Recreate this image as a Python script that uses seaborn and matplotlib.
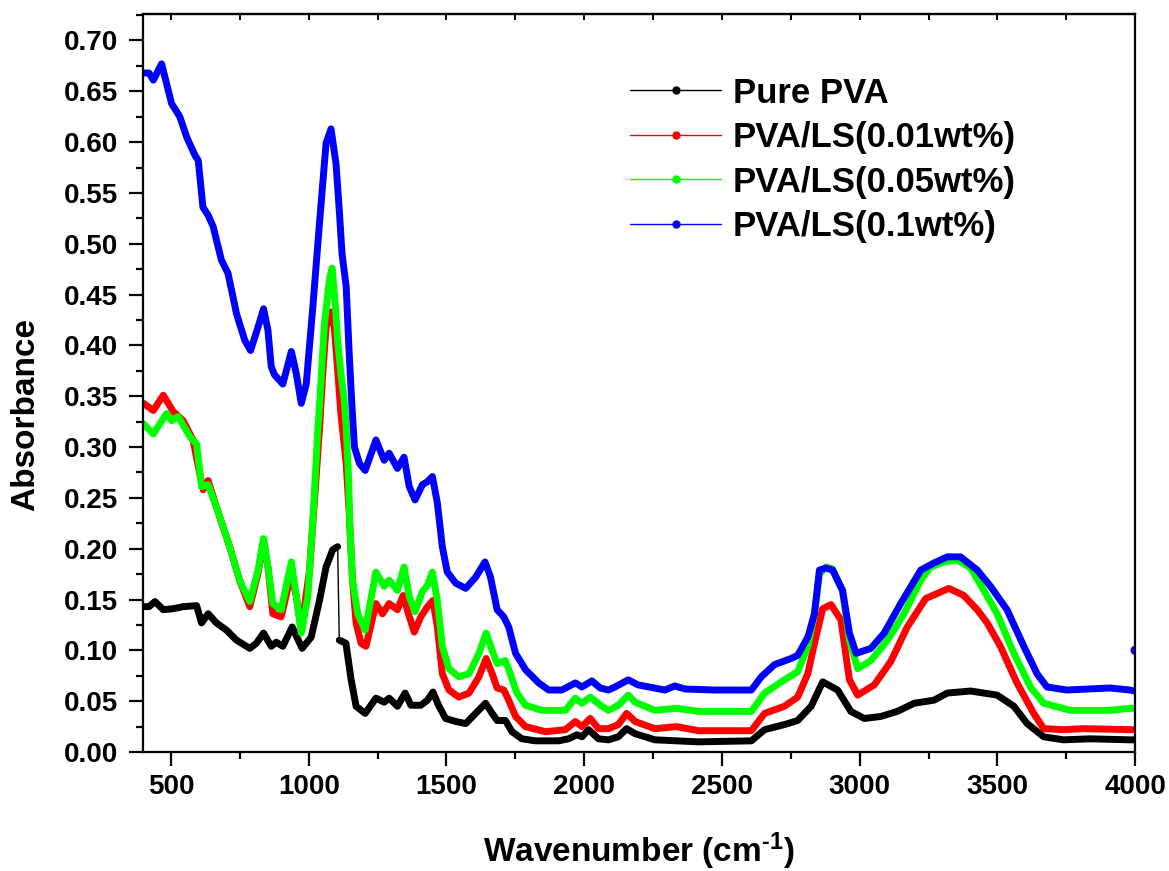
import numpy as np
import pandas as pd
import matplotlib
matplotlib.use("Agg")
import matplotlib.pyplot as plt
from matplotlib.lines import Line2D
from matplotlib.ticker import MultipleLocator, FormatStrFormatter
import seaborn as sns

# ---------------- data ----------------
sample_names = ["Pure PVA", "PVA/LS(0.01wt%)", "PVA/LS(0.05wt%)", "PVA/LS(0.1wt%)"]
sample_colors = ["#000000", "#ff0000", "#00ff00", "#0000ff"]

pure_x = [400, 420, 442, 472, 508, 544, 593, 611, 635, 665, 701, 738, 786, 810, 836, 864, 882, 906, 940, 976,
          1009, 1039, 1063, 1087, 1105,
          1111, 1135, 1154, 1172, 1205, 1244, 1274, 1292, 1322, 1350, 1371, 1407, 1431, 1451, 1473, 1497, 1534,
          1570, 1606, 1642, 1666, 1684, 1714, 1738, 1774, 1823, 1907, 1943, 1974, 1992, 2016, 2052, 2088, 2124,
          2154, 2185, 2257, 2414, 2607, 2655, 2727, 2775, 2824, 2866, 2920, 2968, 3017, 3077, 3137, 3198, 3270,
          3318, 3403, 3499, 3560, 3608, 3668, 3740, 3837, 3981, 4000]
pure_y = [0.143, 0.143, 0.148, 0.140, 0.141, 0.143, 0.144, 0.127, 0.136, 0.127, 0.120, 0.110, 0.102, 0.107,
          0.117, 0.104, 0.108, 0.104, 0.123, 0.102, 0.113, 0.149, 0.182, 0.199, 0.202,
          0.110, 0.107, 0.071, 0.045, 0.038, 0.053, 0.049, 0.053, 0.045, 0.058, 0.046, 0.046, 0.051, 0.059,
          0.045, 0.033, 0.030, 0.028, 0.038, 0.048, 0.038, 0.031, 0.031, 0.020, 0.013, 0.011, 0.011, 0.013,
          0.017, 0.015, 0.022, 0.013, 0.012, 0.015, 0.023, 0.018, 0.012, 0.010, 0.011, 0.022, 0.027, 0.031,
          0.045, 0.069, 0.061, 0.040, 0.033, 0.035, 0.040, 0.048, 0.051, 0.058, 0.060, 0.056, 0.045, 0.028,
          0.015, 0.012, 0.013, 0.012, 0.012]
pure_break_after = 1105   # the pure PVA record jumps between 1105 and 1111 cm-1

ls001_x = [400, 436, 472, 508, 544, 580, 599, 617, 635, 665, 713, 749, 786, 816, 836, 852, 870, 900, 937, 955,
           973, 1003, 1021, 1039, 1051, 1063, 1081, 1093, 1105, 1117, 1136, 1147, 1159, 1172, 1190, 1208, 1244,
           1268, 1292, 1322, 1343, 1362, 1383, 1407, 1431, 1451, 1467, 1485, 1509, 1545, 1582, 1618, 1644, 1666,
           1684, 1708, 1726, 1751, 1787, 1860, 1932, 1968, 1992, 2022, 2052, 2088, 2124, 2154, 2185, 2257, 2335,
           2414, 2607, 2655, 2727, 2775, 2812, 2836, 2866, 2896, 2932, 2963, 2993, 3053, 3113, 3173, 3240, 3282,
           3324, 3378, 3427, 3463, 3511, 3571, 3632, 3668, 3740, 3813, 3981, 4000]
ls001_y = [0.343, 0.336, 0.351, 0.335, 0.326, 0.307, 0.281, 0.258, 0.267, 0.241, 0.202, 0.169, 0.143, 0.176,
           0.208, 0.182, 0.136, 0.133, 0.176, 0.153, 0.120, 0.179, 0.248, 0.317, 0.372, 0.418, 0.433, 0.418,
           0.376, 0.332, 0.284, 0.235, 0.169, 0.127, 0.107, 0.104, 0.146, 0.136, 0.146, 0.140, 0.154, 0.136,
           0.118, 0.133, 0.143, 0.149, 0.123, 0.077, 0.061, 0.054, 0.058, 0.074, 0.092, 0.077, 0.063, 0.061,
           0.051, 0.035, 0.025, 0.020, 0.022, 0.030, 0.025, 0.033, 0.023, 0.023, 0.027, 0.038, 0.030, 0.023,
           0.025, 0.021, 0.021, 0.038, 0.045, 0.054, 0.077, 0.107, 0.141, 0.145, 0.130, 0.071, 0.056, 0.066,
           0.089, 0.123, 0.151, 0.156, 0.161, 0.154, 0.140, 0.127, 0.104, 0.068, 0.038, 0.023, 0.022, 0.023,
           0.022, 0.022]

ls005_x = [400, 436, 484, 502, 526, 569, 593, 611, 635, 665, 713, 749, 786, 816, 836, 852, 870, 900, 937, 955,
           973, 997, 1015, 1033, 1039, 1057, 1075, 1085, 1097, 1105, 1117, 1129, 1136, 1145, 1150, 1159, 1178,
           1205, 1244, 1274, 1292, 1322, 1346, 1365, 1386, 1413, 1431, 1449, 1467, 1485, 1509, 1545, 1582, 1618,
           1644, 1666, 1684, 1714, 1732, 1756, 1787, 1847, 1932, 1968, 1992, 2022, 2064, 2088, 2124, 2160, 2185,
           2257, 2335, 2414, 2607, 2655, 2727, 2775, 2812, 2836, 2854, 2878, 2902, 2938, 2963, 2993, 3041, 3101,
           3161, 3222, 3258, 3306, 3354, 3403, 3451, 3499, 3560, 3620, 3668, 3765, 3909, 3981, 4000]
ls005_y = [0.323, 0.313, 0.333, 0.326, 0.330, 0.310, 0.303, 0.261, 0.263, 0.241, 0.202, 0.169, 0.148, 0.179,
           0.210, 0.182, 0.146, 0.140, 0.187, 0.153, 0.117, 0.153, 0.228, 0.317, 0.340, 0.421, 0.464, 0.476,
           0.438, 0.405, 0.372, 0.346, 0.320, 0.267, 0.218, 0.169, 0.136, 0.120, 0.177, 0.163, 0.169, 0.159,
           0.182, 0.153, 0.138, 0.158, 0.164, 0.177, 0.149, 0.104, 0.082, 0.074, 0.077, 0.097, 0.117, 0.100,
           0.087, 0.090, 0.077, 0.058, 0.046, 0.041, 0.041, 0.053, 0.048, 0.054, 0.045, 0.041, 0.046, 0.056,
           0.049, 0.041, 0.043, 0.040, 0.040, 0.058, 0.071, 0.079, 0.104, 0.136, 0.175, 0.182, 0.180, 0.158,
           0.110, 0.082, 0.090, 0.110, 0.136, 0.169, 0.182, 0.187, 0.189, 0.181, 0.159, 0.136, 0.097, 0.064,
           0.048, 0.041, 0.041, 0.043, 0.043]

ls01_x = [400, 420, 436, 466, 502, 532, 557, 587, 599, 616, 635, 653, 683, 707, 738, 768, 789, 816, 836, 852,
          864, 876, 906, 937, 955, 973, 991, 1015, 1039, 1063, 1081, 1099, 1111, 1121, 1136, 1147, 1157, 1166,
          1184, 1205, 1244, 1274, 1292, 1322, 1346, 1365, 1386, 1413, 1431, 1449, 1467, 1485, 1503, 1534, 1570,
          1606, 1640, 1660, 1684, 1708, 1726, 1751, 1787, 1835, 1871, 1919, 1968, 1992, 2028, 2058, 2088, 2112,
          2160, 2196, 2293, 2329, 2366, 2474, 2607, 2643, 2691, 2751, 2775, 2812, 2836, 2854, 2878, 2902, 2938,
          2963, 2987, 3041, 3089, 3149, 3222, 3270, 3318, 3366, 3427, 3475, 3535, 3596, 3644, 3680, 3752, 3909,
          3981, 3998, 4000]
ls01_y = [0.668, 0.668, 0.661, 0.677, 0.638, 0.625, 0.605, 0.587, 0.582, 0.536, 0.528, 0.517, 0.484, 0.471,
          0.431, 0.405, 0.395, 0.418, 0.436, 0.415, 0.379, 0.371, 0.362, 0.394, 0.372, 0.343, 0.362, 0.438,
          0.520, 0.599, 0.613, 0.579, 0.533, 0.490, 0.458, 0.392, 0.340, 0.300, 0.284, 0.277, 0.307, 0.287,
          0.294, 0.279, 0.290, 0.261, 0.248, 0.263, 0.266, 0.271, 0.245, 0.202, 0.177, 0.166, 0.161, 0.172,
          0.187, 0.172, 0.140, 0.133, 0.123, 0.097, 0.081, 0.068, 0.061, 0.061, 0.068, 0.064, 0.070, 0.063,
          0.061, 0.064, 0.071, 0.066, 0.061, 0.065, 0.062, 0.061, 0.061, 0.074, 0.086, 0.092, 0.095, 0.113,
          0.136, 0.179, 0.181, 0.179, 0.159, 0.117, 0.097, 0.102, 0.117, 0.146, 0.179, 0.186, 0.192, 0.192,
          0.179, 0.163, 0.140, 0.104, 0.077, 0.064, 0.061, 0.063, 0.061, 0.060, 0.100]
ls01_break_after = 3998   # final 4000 cm-1 point jumps up

x_ticks = [500, 1000, 1500, 2000, 2500, 3000, 3500, 4000]
y_ticks = [0.00, 0.05, 0.10, 0.15, 0.20, 0.25, 0.30, 0.35, 0.40, 0.45, 0.50, 0.55, 0.60, 0.65, 0.70]

# ---------------- build long table ----------------
series_x = [pure_x, ls001_x, ls005_x, ls01_x]
series_y = [pure_y, ls001_y, ls005_y, ls01_y]
breaks = [pure_break_after, None, None, ls01_break_after]
frames = []
for name, xs, ys, brk in zip(sample_names, series_x, series_y, breaks):
    xs = np.asarray(xs, float)
    ys = np.asarray(ys, float)
    seg = np.zeros(len(xs), int) if brk is None else (xs > brk).astype(int)
    frames.append(pd.DataFrame({"wavenumber": xs, "absorbance": ys, "sample": name, "segment": seg}))
df = pd.concat(frames, ignore_index=True)

# ---------------- style ----------------
sns.set_style("ticks")
plt.rcParams["font.family"] = ["Liberation Sans", "DejaVu Sans"]
plt.rcParams["font.weight"] = "bold"
plt.rcParams["axes.labelweight"] = "bold"
plt.rcParams["text.color"] = "black"
plt.rcParams["axes.labelcolor"] = "black"
plt.rcParams["xtick.color"] = "black"
plt.rcParams["ytick.color"] = "black"
plt.rcParams["mathtext.fontset"] = "custom"
plt.rcParams["mathtext.rm"] = "Liberation Sans:bold"
plt.rcParams["mathtext.it"] = "Liberation Sans:bold"
plt.rcParams["mathtext.bf"] = "Liberation Sans:bold"

fig = plt.figure(figsize=(11.69, 8.71), dpi=100)
ax = fig.add_axes([0.1227, 0.1366, 0.8483, 0.8473])

palette = dict(zip(sample_names, sample_colors))
sns.lineplot(data=df, x="wavenumber", y="absorbance", hue="sample", hue_order=sample_names,
             units="segment", estimator=None, sort=False, palette=palette, linewidth=5.0,
             legend=False, ax=ax, solid_capstyle="round", solid_joinstyle="round")

# thin connectors across the jumps in the record
for name, brk, col in [(sample_names[0], pure_break_after, sample_colors[0]),
                       (sample_names[3], ls01_break_after, sample_colors[3])]:
    sub = df[df["sample"] == name].sort_values("wavenumber")
    i = int(np.searchsorted(sub["wavenumber"].values, brk, side="right"))
    conn = sub.iloc[i - 1:i + 1]
    sns.lineplot(data=conn, x="wavenumber", y="absorbance", color=col, linewidth=1.0,
                 estimator=None, sort=False, legend=False, ax=ax)
last_blue = df[df["sample"] == sample_names[3]].iloc[[-1]]
sns.scatterplot(data=last_blue, x="wavenumber", y="absorbance", color=sample_colors[3], s=45,
                edgecolor="none", legend=False, ax=ax)

ax.set_xlim(400, 4000)
ax.set_ylim(0, 0.726)
ax.set_xticks(x_ticks)
ax.set_yticks(y_ticks)
ax.xaxis.set_minor_locator(MultipleLocator(250))
ax.yaxis.set_minor_locator(MultipleLocator(0.025))
ax.yaxis.set_major_formatter(FormatStrFormatter("%.2f"))

for sp in ax.spines.values():
    sp.set_linewidth(1.6)
    sp.set_color("black")
ax.tick_params(axis="both", which="major", direction="out", length=10, width=1.6,
               labelsize=20, colors="black")
ax.tick_params(axis="both", which="minor", direction="out", length=5, width=1.6)
ax.tick_params(axis="x", which="major", pad=6)
ax.tick_params(axis="y", which="major", pad=8)
for lab in ax.get_xticklabels() + ax.get_yticklabels():
    lab.set_fontweight("bold")

top = ax.secondary_xaxis("top")
top.set_xticks(x_ticks)
top.xaxis.set_minor_locator(MultipleLocator(250))
top.tick_params(which="both", direction="in", length=4, width=1.4, labeltop=False)
top.spines["top"].set_linewidth(1.6)

ax.set_xlabel(r"Wavenumber (cm$^{\text{-1}}$)", fontsize=24, fontweight="bold", labelpad=22,
              color="black")
ax.set_ylabel("Absorbance", fontsize=24, fontweight="bold", color="black")
ax.yaxis.set_label_coords(-0.103, 0.457)

handles = [Line2D([0], [0], color=c, lw=1.0, marker="o", markersize=6, markeredgewidth=0)
           for c in sample_colors]
leg = fig.legend(handles, sample_names, loc="upper left", bbox_to_anchor=(0.539, 0.912),
                 frameon=False, handlelength=2.62, handletextpad=0.34,
                 labelspacing=0.33, borderpad=0, borderaxespad=0,
                 prop={"weight": "bold", "size": 25})
for t in leg.get_texts():
    t.set_color("black")

fig.savefig("out.png", dpi=100)
